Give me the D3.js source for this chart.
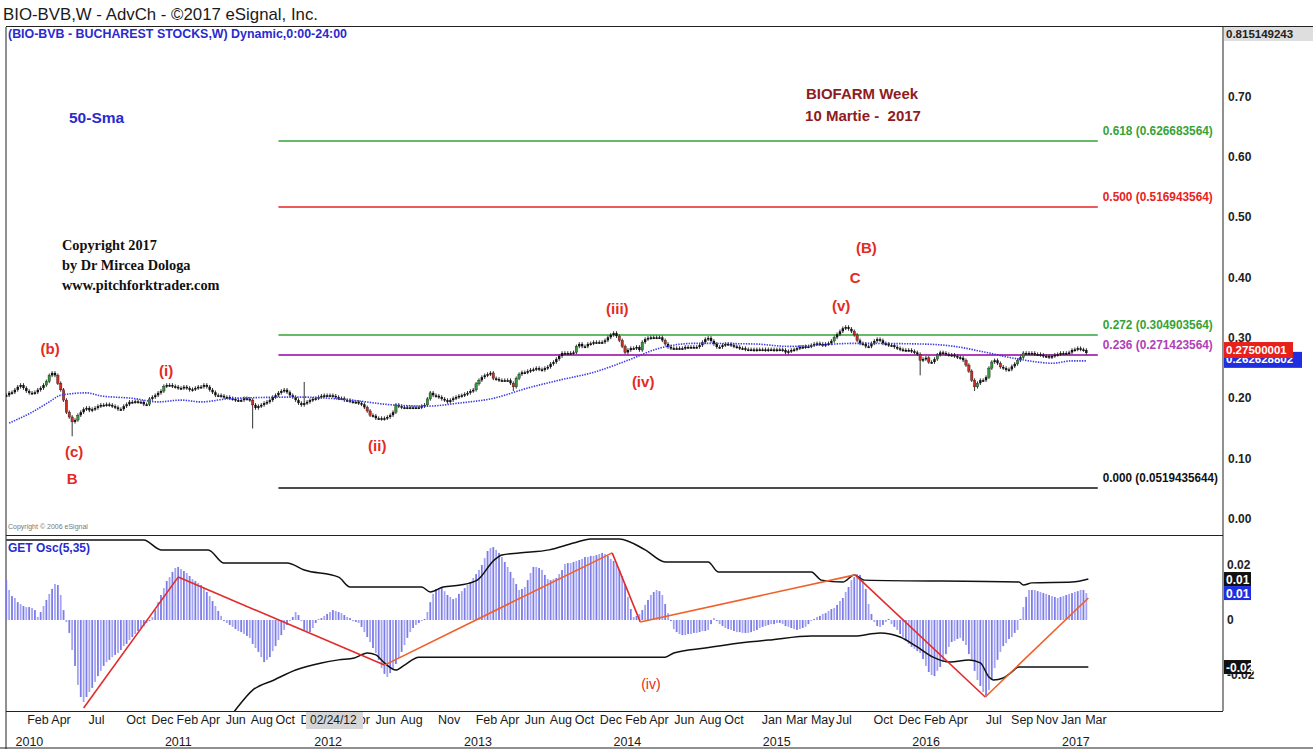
<!DOCTYPE html>
<html>
<head>
<meta charset="utf-8">
<script src="https://cdn.jsdelivr.net/npm/d3@7"></script>
<style>
  body { margin: 0; background: #fff; }
  svg { display: block; font-family: "Liberation Sans", Arial, sans-serif; }
</style>
</head>
<body>
<script>
// weekly bars, first one in the week of 7 Dec 2009
const firstWeek = '2009-12-07'

// weekly closes, in thousandths
const closeMilli = [
  205,209,210,214,219,222,217,212,209,209, 210,214,217,222,228,238,242,238,225,214,
  197,177,169,161,164,172,177,182,184,180, 182,184,187,189,189,190,189,187,185,182,
  182,187,190,194,194,195,194,194,190,190, 199,202,205,209,212,220,222,222,220,219,
  217,217,219,217,214,215,217,219,219,222, 219,214,210,205,205,204,202,202,200,199,
  197,197,197,200,199,197,189,184,187,189, 192,194,197,202,205,209,212,214,210,205,
  202,197,192,189,192,194,197,199,200,202, 204,205,205,205,204,202,200,200,197,197,
  195,194,194,192,190,185,179,172,171,167, 167,166,167,169,172,177,189,187,185,185,
  185,185,185,185,185,187,189,199,209,205, 204,202,199,197,194,197,200,202,204,205,
  207,209,212,214,224,230,235,238,240,242, 233,232,230,230,230,230,225,219,233,240,
  243,243,245,247,248,250,248,247,250,252, 257,260,265,270,275,275,275,275,276,286,
  290,286,286,290,291,293,293,293,293,296, 301,305,308,303,296,286,276,280,283,283,
  285,280,293,298,300,301,301,301,301,296, 290,285,283,283,283,283,283,285,285,285,
  285,285,288,293,298,300,295,290,285,285, 288,290,290,288,286,285,283,283,281,281,
  281,280,281,281,281,280,281,281,280,281, 281,280,276,278,280,281,283,285,285,286,
  286,288,290,291,290,288,290,291,295,301, 306,311,316,318,315,311,305,296,291,290,
  286,286,291,295,298,296,291,290,288,288, 285,283,281,280,280,280,278,276,273,263,
  265,267,260,260,265,272,276,275,273,272, 272,270,268,267,263,255,245,230,219,225,
  230,230,235,250,260,263,258,252,250,247, 248,253,257,263,268,275,275,275,275,273,
  273,272,270,270,268,270,272,273,275,275, 275,276,280,281,283,281,280,275
]

// long wicks that stick out of the bars: [week, low, high]
const wicks = [[23, 0.137, null], [86, 0.15, null], [104, null, 0.227], [177, 0.212, null], [319, 0.238, null], [338, 0.212, null]]

// 50 week simple moving average, read at its bends: [week, value]
const sma50 = [
  [1,0.159],[9,0.177],[15,0.194],[19,0.205],[28,0.209],[33,0.204],[44,0.200],[53,0.194],
  [61,0.197],[68,0.194],[79,0.200],[103,0.202],[120,0.197],[135,0.189],[147,0.187],[158,0.192],
  [170,0.200],[182,0.217],[193,0.230],[205,0.243],[217,0.263],[228,0.283],[240,0.291],[261,0.290],
  [273,0.286],[296,0.291],[319,0.290],[331,0.286],[342,0.276],[351,0.267],[360,0.260],[365,0.258],
  [372,0.262],[377,0.262]
]

// GET oscillator (5,35), weekly, in ten-thousandths
const oscE4 = [
  145,109,87,80,65,58,51,47,47,44, 36,11,29,51,73,95,113,131,127,91,
  36,-7,-47,-109,-167,-236,-280,-298,-280,-262, -247,-225,-204,-185,-167,-153,-145,-135,-127,-120,
  -109,-95,-87,-73,-62,-51,-40,-29,-22,-11, -4,11,36,65,91,116,142,156,175,189,
  193,185,178,171,160,149,142,135,127,116, 102,87,69,51,33,15,-4,-11,-18,-25,
  -33,-40,-44,-51,-58,-65,-87,-102,-116,-135, -153,-145,-135,-113,-95,-73,-55,-36,-18,-4,
  11,29,18,-4,-36,-40,-44,-29,-11,4, 7,15,22,29,36,33,29,25,18,11,
  7,-4,-7,-11,-25,-44,-62,-80,-102,-120, -145,-175,-196,-207,-193,-178,-160,-138,-116,-91,
  -65,-44,-29,-18,-11,-4,4,29,65,95, 113,116,120,105,91,84,76,80,95,105,
  116,127,138,153,167,182,200,225,251,262, 265,255,244,229,211,193,175,153,131,109,
  113,120,145,171,193,193,189,182,164,149, 145,149,153,167,182,204,207,207,211,215,
  218,222,229,229,233,233,236,240,244,240, 233,222,215,204,182,160,131,84,40,11,
  15,22,36,55,73,91,102,109,105,91, 58,25,-4,-33,-44,-51,-55,-55,-51,-51,
  -47,-47,-44,-40,-40,-36,-15,7,-4,-15, -22,-29,-33,-36,-40,-44,-44,-47,-47,-47,
  -44,-40,-36,-29,-25,-22,-18,-15,-15,-11, -11,-15,-22,-25,-29,-33,-36,-33,-29,-25,
  -15,-4,4,11,15,22,25,33,40,44, 55,69,80,102,120,145,156,167,164,145,
  113,58,22,-7,-22,-25,-18,-7,4,-15, -25,-36,-51,-62,-73,-87,-98,-105,-113,-120,
  -142,-167,-189,-200,-204,-185,-171,-153,-124,-98, -80,-76,-69,-65,-76,-91,-124,-149,-185,-218,
  -240,-262,-280,-255,-218,-175,-145,-116,-95,-84, -69,-62,-47,-36,4,47,84,109,109,109,
  105,102,98,95,91,87,84,80,84,87, 91,95,98,102,105,109,109,98
]

// oscillator envelope lines: [week, value]
const oscUpper = [
  [0,0.0291],[48,0.0291],[54,0.0255],[70.5,0.0255],[76,0.0207],[98,0.0207],[104,0.0182],[116,0.0156],
  [120,0.0120],[145,0.0120],[148,0.0102],[152.5,0.0120],[158.5,0.0127],[164.4,0.0145],[170.3,0.0218],
  [173,0.0236],[179,0.0244],[189.5,0.0255],[198,0.0280],[204,0.0295],[214,0.0295],[223,0.0255],
  [230,0.0211],[245,0.0211],[248.5,0.0175],[281,0.0175],[284.5,0.0145],[292,0.0138],[296,0.0164],
  [299.5,0.0145],[353.5,0.0138],[355,0.0127],[358,0.0135],[372,0.0138],[377.7,0.0149]
]
const oscLower = [
  [74.7,-0.040],[80,-0.0327],[86,-0.0255],[93.5,-0.0218],[101,-0.0182],[110,-0.0156],[116,-0.0145],
  [121.5,-0.0138],[126,-0.0120],[129,-0.0127],[132,-0.0156],[136,-0.0182],[139,-0.0164],[144,-0.0135],
  [148,-0.0135],[230,-0.0135],[233,-0.0120],[244,-0.0102],[259,-0.0080],[266,-0.0073],[281,-0.0058],
  [296,-0.0058],[305,-0.0047],[312,-0.0062],[318,-0.0098],[323.5,-0.0135],[329.5,-0.0153],[336,-0.0145],
  [340,-0.0156],[343,-0.0207],[344.5,-0.0218],[348,-0.0211],[350.5,-0.0193],[353.5,-0.0171],[377.7,-0.0171]
]

// zigzag drawn over the oscillator: [week, value]
const oscZigzag = [[27,-0.032],[60,0.0156],[132,-0.0164],[211.5,0.0244],[221.3,-0.0007],[296.3,0.0164],[341.7,-0.028],[377.7,0.008]]

// fibonacci levels
const fibRatio = ['0.618', '0.500', '0.272', '0.236', '0.000']
const fibPrice = [0.626683564, 0.516943564, 0.304903564, 0.271423564, 0.0519435644]
const fibText = ['0.626683564', '0.516943564', '0.304903564', '0.271423564', '0.0519435644']
const fibColor = ['#35a335', '#e82222', '#35a335', '#b040b8', '#111111']
const fibFrom = '2011-10-03'
const fibTo = '2017-03-27'

// elliott wave labels: [text, week, price]
const waveLabels = [
  ['(b)', 15.3, 0.280], ['(c)', 23.7, 0.109], ['B', 23, 0.065], ['(i)', 55.8, 0.2435],
  ['(ii)', 129.5, 0.119], ['(iii)', 213.3, 0.346], ['(iv)', 222.3, 0.225], ['(v)', 291.4, 0.351],
  ['C', 296.3, 0.398], ['(B)', 300.2, 0.447]
]

const priceTicks = [0.70, 0.60, 0.50, 0.40, 0.30, 0.20, 0.10, 0.00]
const priceTop = 0.815149243
const oscTicks = [0.02, 0, -0.02]
const monthTicks = [
  '2010-02','2010-04','2010-07','2010-10','2010-12',
  '2011-02','2011-04','2011-06','2011-08','2011-10','2011-12',
  '2012-04','2012-06','2012-08','2012-11',
  '2013-02','2013-04','2013-06','2013-08','2013-10','2013-12',
  '2014-02','2014-04','2014-06','2014-08','2014-10',
  '2015-01','2015-03','2015-05','2015-07','2015-10','2015-12',
  '2016-02','2016-04','2016-07','2016-09','2016-11',
  '2017-01','2017-03'
]
const yearTicks = ['2010','2011','2012','2013','2014','2015','2016','2017']

const W = 1313, H = 749
const L = 6, R = 1223
const pTop = 27, pBot = 535, oTop = 537, oBot = 711

const parse = d3.timeParse('%Y-%m-%d')
const start = parse(firstWeek)
const weekDate = i => new Date(start.getTime() + i * 7 * 864e5)

const x = d3.scaleTime()
  .domain([new Date(2010, 0, 1), new Date(2017, 0, 1)])
  .range([16.5, 1063])
const xw = i => x(weekDate(i))
const y = d3.scaleLinear().domain([0, priceTop]).range([519, pTop])
const yo = d3.scaleLinear().domain([-0.02, 0.02]).range([675, 565])

const bars = closeMilli.map((c, i) => {
  const close = c / 1000
  const open = i > 0 ? closeMilli[i - 1] / 1000 : close
  return { i, open, close, high: Math.max(open, close) + 0.003, low: Math.min(open, close) - 0.003 }
})
wicks.forEach(([i, lo, hi]) => {
  if (lo != null) bars[i].low = lo
  if (hi != null) bars[i].high = hi
})

const svg = d3.select('body').append('svg').attr('width', W).attr('height', H)

const defs = svg.append('defs')
defs.append('clipPath').attr('id', 'clipP').append('rect')
  .attr('x', L).attr('y', pTop).attr('width', R - L).attr('height', pBot - pTop)
defs.append('clipPath').attr('id', 'clipO').append('rect')
  .attr('x', L).attr('y', oTop).attr('width', R - L).attr('height', oBot - oTop)

// header
svg.append('text').attr('x', 3).attr('y', 20).attr('font-size', 17).attr('fill', '#1a1a1a')
  .attr('textLength', 315).attr('lengthAdjust', 'spacingAndGlyphs')
  .text('BIO-BVB,W - AdvCh - ©2017 eSignal, Inc.')

// frame
const frame = svg.append('g').attr('stroke', '#222').attr('fill', 'none')
frame.append('line').attr('x1', L).attr('x2', W).attr('y1', pTop - 0.5).attr('y2', pTop - 0.5)
frame.append('line').attr('x1', L).attr('x2', L).attr('y1', pTop).attr('y2', H)
frame.append('line').attr('x1', R).attr('x2', R).attr('y1', pTop).attr('y2', oBot)
frame.append('line').attr('x1', L).attr('x2', R).attr('y1', pBot + 0.5).attr('y2', pBot + 0.5)
frame.append('line').attr('x1', L).attr('x2', R).attr('y1', oBot + 0.5).attr('y2', oBot + 0.5)
frame.append('line').attr('x1', 0).attr('x2', W).attr('y1', H - 1).attr('y2', H - 1)

svg.append('text').attr('x', 8).attr('y', 38).attr('font-size', 12).attr('font-weight', 'bold')
  .attr('fill', '#2a2ad0').attr('textLength', 339).attr('lengthAdjust', 'spacingAndGlyphs')
  .text('(BIO-BVB - BUCHAREST STOCKS,W) Dynamic,0:00-24:00')

// ---- price panel ----
const gp = svg.append('g').attr('clip-path', 'url(#clipP)')

const fibG = gp.append('g')
fibPrice.forEach((p, k) => {
  fibG.append('line')
    .attr('x1', x(parse(fibFrom))).attr('x2', x(parse(fibTo)))
    .attr('y1', Math.round(y(p))).attr('y2', Math.round(y(p)))
    .style('stroke', fibColor[k]).style('stroke-width', k === 3 ? '2.2px' : '1.6px')
  fibG.append('text')
    .attr('x', x(parse(fibTo)) + 5).attr('y', y(p) - 6)
    .attr('font-size', 12).attr('font-weight', 'bold').style('fill', fibColor[k])
    .attr('textLength', fibText[k].length > 11 ? 115 : 110).attr('lengthAdjust', 'spacingAndGlyphs')
    .text(`${fibRatio[k]} (${fibText[k]})`)
})

const candleColor = b => b.close - b.open > 0.006 ? '#2f9a35' : (b.open - b.close > 0.006 ? '#d22a1e' : '#111')

gp.append('g').selectAll('line').data(bars).join('line')
  .attr('x1', b => xw(b.i)).attr('x2', b => xw(b.i))
  .attr('y1', b => y(b.high)).attr('y2', b => y(b.low))
  .attr('stroke', '#333').attr('stroke-width', 1)

gp.append('g').selectAll('rect').data(bars).join('rect')
  .attr('x', b => xw(b.i) - 1.2).attr('width', 2.4)
  .attr('y', b => y(Math.max(b.open, b.close)))
  .attr('height', b => Math.max(1.6, y(Math.min(b.open, b.close)) - y(Math.max(b.open, b.close))))
  .attr('fill', candleColor)
  .attr('stroke', b => candleColor(b) === '#111' ? 'none' : '#222').attr('stroke-width', 0.4)

gp.append('path').datum(sma50)
  .attr('d', d3.line().x(d => xw(d[0])).y(d => y(d[1])).curve(d3.curveMonotoneX))
  .attr('fill', 'none').attr('stroke', '#3a3ae8').attr('stroke-width', 1.6)
  .attr('stroke-dasharray', '1.4,1.2')

gp.selectAll('text.wave').data(waveLabels).join('text').attr('class', 'wave')
  .attr('x', d => xw(d[1])).attr('y', d => y(d[2]))
  .attr('text-anchor', 'middle').attr('dominant-baseline', 'middle')
  .attr('font-size', 15).attr('font-weight', 'bold').attr('fill', '#e42a22')
  .text(d => d[0])

gp.append('text').attr('x', 69).attr('y', 123).attr('font-size', 15.5).attr('font-weight', 'bold')
  .attr('fill', '#2a2ad0').text('50-Sma')

const title = gp.append('g').attr('font-size', 15).attr('font-weight', 'bold').attr('fill', '#8e1c22')
  .attr('text-anchor', 'middle')
title.append('text').attr('x', 862).attr('y', 99).text('BIOFARM Week')
title.append('text').attr('x', 863).attr('y', 121).attr('xml:space', 'preserve').text('10 Martie -  2017')

const copy = gp.append('g').attr('font-family', '"Liberation Serif", "Times New Roman", serif')
  .attr('font-size', 14.3).attr('font-weight', 'bold').attr('fill', '#111')
copy.append('text').attr('x', 62).attr('y', 250).text('Copyright 2017')
copy.append('text').attr('x', 62).attr('y', 270).text('by Dr Mircea Dologa')
copy.append('text').attr('x', 62).attr('y', 290).text('www.pitchforktrader.com')

gp.append('text').attr('x', 8).attr('y', 529).attr('font-size', 7).attr('fill', '#777')
  .text('Copyright © 2006 eSignal')

// price axis
const pa = svg.append('g').attr('font-size', 12).attr('font-weight', 'bold').attr('fill', '#222')
priceTicks.forEach(t => {
  pa.append('text').attr('x', R + 5).attr('y', y(t) + 4).text(t.toFixed(2))
})
svg.append('rect').attr('x', R + 1).attr('y', pTop).attr('width', W - R - 1).attr('height', 14).attr('fill', '#dedede')
svg.append('text').attr('x', R + 3).attr('y', pTop + 11).attr('font-size', 11.5).attr('font-weight', 'bold')
  .attr('fill', '#222').text(priceTop.toFixed(9))

// last value tags: the close tag sits over the sma tag
const lastSma = sma50[sma50.length - 1][1]
const lastClose = bars[bars.length - 1].close
svg.append('rect').attr('x', R + 1).attr('y', y(lastSma) - 9).attr('width', W - R - 12).attr('height', 16).attr('fill', '#1f2fe0')
svg.append('text').attr('x', R + 3).attr('y', y(lastSma) + 2).attr('font-size', 11.5).attr('font-weight', 'bold')
  .attr('fill', '#fff').text('0.26262880' + '2')
svg.append('rect').attr('x', R + 1).attr('y', y(lastClose) - 11).attr('width', 69).attr('height', 16).attr('fill', '#e8201a')
svg.append('text').attr('x', R + 3).attr('y', y(lastClose) + 1).attr('font-size', 11.5).attr('font-weight', 'bold')
  .attr('fill', '#fff').text(lastClose.toFixed(8).replace(/0+$/, '') + '00001')

// ---- oscillator panel ----
const go = svg.append('g').attr('clip-path', 'url(#clipO)')

go.append('g').selectAll('rect').data(oscE4).join('rect')
  .attr('x', (v, i) => xw(i) - 0.9).attr('width', 1.8)
  .attr('y', v => yo(Math.max(0, v / 1e4)))
  .attr('height', v => Math.abs(yo(v / 1e4) - yo(0)))
  .attr('fill', (v, i) => i % 2 ? '#a4a4f2' : '#7c7ce8')

const bandLine = d3.line().x(d => xw(d[0])).y(d => yo(d[1])).curve(d3.curveMonotoneX)
go.append('path').datum(oscUpper).attr('d', bandLine).attr('fill', 'none').attr('stroke', '#111').attr('stroke-width', 1.5)
go.append('path').datum(oscLower).attr('d', bandLine).attr('fill', 'none').attr('stroke', '#111').attr('stroke-width', 1.5)

d3.pairs(oscZigzag).forEach(([a, b], k) => {
  go.append('line')
    .attr('x1', xw(a[0])).attr('y1', yo(a[1])).attr('x2', xw(b[0])).attr('y2', yo(b[1]))
    .attr('stroke', (k > 1 && k % 2 === 0) ? '#f0602a' : '#e42a2a').attr('stroke-width', 1.6)
})

go.append('text').attr('x', xw(225)).attr('y', yo(-0.0236)).attr('text-anchor', 'middle')
  .attr('dominant-baseline', 'middle').attr('font-size', 14).attr('fill', '#e42a22').text('(iv)')

go.append('text').attr('x', 8).attr('y', 552).attr('font-size', 12).attr('font-weight', 'bold')
  .attr('fill', '#2a2ad0').text('GET Osc(5,35)')

// oscillator axis
const oa = svg.append('g').attr('font-size', 12).attr('font-weight', 'bold').attr('fill', '#222')
oscTicks.forEach(t => {
  oa.append('text').attr('x', R + 4).attr('y', yo(t) + 4).text(t === 0 ? '0' : t.toFixed(2))
})
const lastUpper = oscUpper[oscUpper.length - 1][1]
const lastLower = oscLower[oscLower.length - 1][1]
const lastOsc = oscE4[oscE4.length - 1] / 1e4
const tag = (v, bg, txt) => {
  svg.append('rect').attr('x', R + 1).attr('y', yo(v) - 7).attr('width', 27).attr('height', 14).attr('fill', bg)
  svg.append('text').attr('x', R + 3).attr('y', yo(v) + 5).attr('font-size', 12).attr('font-weight', 'bold')
    .attr('fill', '#fff').text(txt)
}
tag(lastUpper, '#111', lastUpper.toFixed(2))
tag(lastOsc, '#1f2fe0', lastOsc.toFixed(2))
tag(lastLower, '#111', lastLower.toFixed(2))

// time axis
const ta = svg.append('g').attr('font-size', 12.5).attr('fill', '#1a1a1a')
monthTicks.forEach(m => {
  const d = d3.timeParse('%Y-%m')(m)
  ta.append('text').attr('x', x(d) - 2).attr('y', 724).text(d3.timeFormat('%b')(d))
})
yearTicks.forEach(yr => {
  const d = new Date(+yr, 0, 1)
  ta.append('text').attr('x', Math.max(8, x(d) - 1)).attr('y', 746).text(yr)
})

// cursor date box
svg.append('rect').attr('x', 306).attr('y', oBot + 1).attr('width', 57).attr('height', 17).attr('fill', '#d6d6d6')
svg.append('text').attr('x', 310).attr('y', 724).attr('font-size', 12).attr('fill', '#1a1a1a').text('02/24/12')
</script>
</body>
</html>
